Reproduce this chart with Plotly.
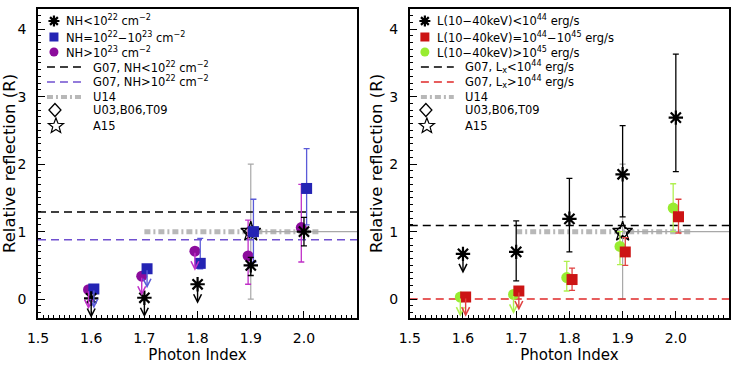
import math
import plotly.graph_objects as go

# ---------------- data ----------------
gamma = [1.6, 1.7, 1.8, 1.9, 2.0]
XR = [1.5, 2.0999]
YR = [-0.28, 4.3]

# Left panel (column density)
nh_lo_y  = [0.01, 0.02, 0.22, 0.50, 1.00]
nh_lo_hi = [None, None, None, 0.62, 1.21]
nh_lo_lo = [None, None, None, 0.35, 0.79]
nh_lo_ul = [True, True, True, False, False]

nh_mid_y  = [0.15, 0.45, 0.53, 1.00, 1.64]
nh_mid_hi = [None, None, 0.90, 1.48, 2.23]
nh_mid_lo = [None, None, 0.45, 0.55, 1.10]
nh_mid_ul = [True, True, False, False, False]

nh_hi_y  = [0.14, 0.34, 0.71, 0.64, 1.06]
nh_hi_hi = [None, None, None, 1.17, 1.70]
nh_hi_lo = [None, None, None, 0.22, 0.55]
nh_hi_ul = [True, True, True, False, False]

g07_nh_lo = 1.29
g07_nh_hi = 0.88

# Right panel (luminosity)
l_lo_y  = [0.67, 0.70, 1.19, 1.85, 2.69]
l_lo_hi = [None, 1.16, 1.79, 2.57, 3.63]
l_lo_lo = [None, 0.27, 0.70, 1.22, 1.89]
l_lo_ul = [True, False, False, False, False]

l_mid_y  = [0.03, 0.12, 0.29, 0.70, 1.22]
l_mid_hi = [None, None, 0.46, 0.91, 1.48]
l_mid_lo = [None, None, 0.13, 0.50, 0.98]
l_mid_ul = [True, True, False, False, False]

l_hi_y  = [0.03, 0.07, 0.32, 0.78, 1.35]
l_hi_hi = [None, None, 0.56, 1.00, 1.71]
l_hi_lo = [None, None, 0.12, 0.51, 1.00]
l_hi_ul = [True, True, False, False, False]

g07_l_lo = 1.09
g07_l_hi = 0.0

# Literature
u14_x = [1.70, 2.03]
u14_y = [1.0, 1.0]
u03_x, u03_y, u03_xspan = [1.9], [1.0], [0.2]
a15_x, a15_y, a15_hi, a15_lo = [1.9], [1.0], [2.0], [0.0]

# legend labels
left_labels = [
    "NH&lt;10<sup>22</sup> cm<sup>−2</sup>",
    "NH=10<sup>22</sup>−10<sup>23</sup> cm<sup>−2</sup>",
    "NH&gt;10<sup>23</sup> cm<sup>−2</sup>",
    "G07, NH&lt;10<sup>22</sup> cm<sup>−2</sup>",
    "G07, NH&gt;10<sup>22</sup> cm<sup>−2</sup>",
    "U14", "U03,B06,T09", "A15",
]
right_labels = [
    "L(10−40keV)&lt;10<sup>44</sup> erg/s",
    "L(10−40keV)=10<sup>44</sup>−10<sup>45</sup> erg/s",
    "L(10−40keV)&gt;10<sup>45</sup> erg/s",
    "G07, L<sub>x</sub>&lt;10<sup>44</sup> erg/s",
    "G07, L<sub>x</sub>&gt;10<sup>44</sup> erg/s",
    "U14", "U03,B06,T09", "A15",
]

ARROW_LEN = 0.29
OFF = 0.005

# ---------------- styles ----------------
FONT = "DejaVu Sans"
BLACK = "#000000"
BLUE, BLUE_E = "#2424b4", "#5a5ad8"
PURP, PURP_E = "#8c0c9c", "#c030c8"
RED, RED_E = "#cc1414", "#e04040"
GREEN, GREEN_E = "#98ec30", "#b0f050"
GRAY = "#a8a8a8"
U14_COL = "#b8b8b8"
PURP_D = "#7050d0"
RED_D = "#e02828"
U14_DASH = "6px,3px,2px,3px"
G07_DASH = "8px,5px"

W, H = 734, 366
ML, MR, MT, MB = 38, 3, 9, 48
PW, PH = W - ML - MR, H - MT - MB

fig = go.Figure()
annotations = []
shapes = []


def err(y, hi, lo):
    plus = [None if h is None else h - v for v, h in zip(y, hi)]
    minus = [None if l is None else v - l for v, l in zip(y, lo)]
    return plus, minus


def add_series(xs, y, hi, lo, ul, marker, ecol, acol, xa, ya):
    plus, minus = err(y, hi, lo)
    fig.add_trace(go.Scatter(
        x=xs, y=y, mode="markers", marker=marker, showlegend=False,
        error_y=dict(type="data", array=plus, arrayminus=minus, color=ecol,
                     thickness=1.3, width=3, symmetric=False),
        xaxis=xa, yaxis=ya))
    for xv, yv, u in zip(xs, y, ul):
        if u:
            annotations.append(dict(
                x=xv, y=yv - ARROW_LEN, ax=xv, ay=yv,
                xref=xa, yref=ya, axref=xa, ayref=ya, text="",
                showarrow=True, arrowhead=5, arrowsize=1.1, arrowwidth=1.4,
                arrowcolor=acol, standoff=0, startstandoff=0))


def add_lit(xa, ya):
    fig.add_trace(go.Scatter(
        x=u14_x, y=u14_y, mode="lines", showlegend=False,
        line=dict(color=U14_COL, width=5, dash=U14_DASH), xaxis=xa, yaxis=ya))
    fig.add_trace(go.Scatter(
        x=u03_x, y=u03_y, mode="markers", showlegend=False,
        marker=dict(symbol="diamond-open", size=11, color=BLACK, line=dict(width=1.3)),
        error_x=dict(type="data", array=u03_xspan, arrayminus=[0], color=GRAY,
                     thickness=1.2, width=0, symmetric=False),
        xaxis=xa, yaxis=ya))
    p, m = err(a15_y, a15_hi, a15_lo)
    fig.add_trace(go.Scatter(
        x=a15_x, y=a15_y, mode="markers", showlegend=False,
        marker=dict(symbol="star-open", size=15, color=BLACK, line=dict(width=1.3)),
        error_y=dict(type="data", array=p, arrayminus=m, color=GRAY,
                     thickness=1.2, width=3, symmetric=False),
        xaxis=xa, yaxis=ya))


def hline(yv, color, xa, ya):
    fig.add_trace(go.Scatter(
        x=XR, y=[yv, yv], mode="lines", showlegend=False,
        line=dict(color=color, width=1.5, dash=G07_DASH), xaxis=xa, yaxis=ya))


ast = dict(symbol="asterisk-open", size=12, color=BLACK, line=dict(width=2.2, color=BLACK))
sq = lambda c: dict(symbol="square", size=11, color=c, line=dict(width=0))
ci = lambda c: dict(symbol="circle", size=11, color=c, line=dict(width=0))

# ---- left panel ----
add_lit("x", "y")
hline(g07_nh_lo, BLACK, "x", "y")
hline(g07_nh_hi, PURP_D, "x", "y")
add_series([g - OFF for g in gamma], nh_hi_y, nh_hi_hi, nh_hi_lo, nh_hi_ul, ci(PURP), PURP_E, PURP_E, "x", "y")
add_series([g + OFF for g in gamma], nh_mid_y, nh_mid_hi, nh_mid_lo, nh_mid_ul, sq(BLUE), BLUE_E, BLUE_E, "x", "y")
add_series(gamma, nh_lo_y, nh_lo_hi, nh_lo_lo, nh_lo_ul, ast, BLACK, BLACK, "x", "y")

# ---- right panel ----
add_lit("x2", "y2")
hline(g07_l_lo, BLACK, "x2", "y2")
hline(g07_l_hi, RED_D, "x2", "y2")
add_series([g - OFF for g in gamma], l_hi_y, l_hi_hi, l_hi_lo, l_hi_ul, ci(GREEN), GREEN_E, GREEN_E, "x2", "y2")
add_series([g + OFF for g in gamma], l_mid_y, l_mid_hi, l_mid_lo, l_mid_ul, sq(RED), RED_E, RED_E, "x2", "y2")
add_series(gamma, l_lo_y, l_lo_hi, l_lo_lo, l_lo_ul, ast, BLACK, BLACK, "x2", "y2")

# ---------------- hand-drawn legends (paper coords, pixel-sized symbols) ----------------
def px(xp):
    return (xp - ML) / PW


def py(yp):
    return (MT + PH - yp) / PH


ROW_Y = [21, 37, 52, 67, 82, 97, 110, 126]

star_pts = []
for k in range(10):
    r = 8.0 if k % 2 == 0 else 3.4
    a = math.pi / 2 + k * math.pi / 5
    star_pts.append((r * math.cos(a), r * math.sin(a)))
STAR_PATH = "M" + "L".join(f"{x:.2f},{y:.2f}" for x, y in star_pts) + "Z"
AST_PATH = "M-5.5,0L5.5,0M0,-5.5L0,5.5M-3.9,-3.9L3.9,3.9M-3.9,3.9L3.9,-3.9"
DIA_PATH = "M0,-6.5L6,0L0,6.5L-6,0Z"


def pix_shape(cx, cy, **kw):
    d = dict(xref="paper", yref="paper", xsizemode="pixel", ysizemode="pixel",
             xanchor=px(cx), yanchor=py(cy), layer="above")
    d.update(kw)
    shapes.append(d)


def legend(x_sym, x_txt1, x_txt2, x_l0, x_l1, labels, c_sq, c_ci, c_dash2):
    pix_shape(x_sym, ROW_Y[0], type="path", path=AST_PATH, line=dict(color=BLACK, width=2.2))
    pix_shape(x_sym, ROW_Y[1], type="rect", x0=-4.5, x1=4.5, y0=-4.5, y1=4.5,
              fillcolor=c_sq, line=dict(width=0))
    pix_shape(x_sym, ROW_Y[2], type="circle", x0=-4.5, x1=4.5, y0=-4.5, y1=4.5,
              fillcolor=c_ci, line=dict(width=0))
    for row, col, w, dash in [(3, BLACK, 1.5, G07_DASH), (4, c_dash2, 1.5, G07_DASH), (5, U14_COL, 4, U14_DASH)]:
        shapes.append(dict(type="line", xref="paper", yref="paper",
                           x0=px(x_l0), x1=px(x_l1), y0=py(ROW_Y[row]), y1=py(ROW_Y[row]),
                           line=dict(color=col, width=w, dash=dash), layer="above"))
    pix_shape(x_sym + 1, ROW_Y[6], type="path", path=DIA_PATH, line=dict(color=BLACK, width=1.3))
    pix_shape(x_sym + 2, ROW_Y[7], type="path", path=STAR_PATH, line=dict(color=BLACK, width=1.2))
    for i, lab in enumerate(labels):
        annotations.append(dict(
            xref="paper", yref="paper", x=px(x_txt1 if i < 3 else x_txt2), y=py(ROW_Y[i]),
            xanchor="left", yanchor="middle", text=lab, showarrow=False,
            font=dict(family=FONT, size=11.5, color=BLACK)))


legend(54, 64, 91, 47, 82, left_labels, BLUE, PURP, PURP_D)
legend(426, 436, 464, 422, 455, right_labels, RED, GREEN, RED_D)

# ---------------- axes ----------------
minor_x = dict(ticks="inside", ticklen=3, dtick=0.01, tick0=1.5, tickcolor=BLACK, tickwidth=1)
minor_y = dict(ticks="inside", ticklen=3, dtick=0.1, tick0=0, tickcolor=BLACK, tickwidth=1)
ax_common = dict(ticks="inside", ticklen=7, tickwidth=1.3, tickcolor=BLACK,
                 showgrid=False, zeroline=False,
                 tickfont=dict(family=FONT, size=14, color=BLACK))
xax = dict(ax_common, range=XR, tickmode="linear", tick0=1.5, dtick=0.1, tickformat=".1f",
           showline=True, linecolor=BLACK, linewidth=1.5, mirror=True,
           minor=minor_x,
           title=dict(text="Photon Index", font=dict(family=FONT, size=15, color=BLACK), standoff=3),
           ticklabelstandoff=6)
yax = dict(ax_common, range=YR, tickmode="linear", tick0=0, dtick=1,
           showline=True, linecolor=BLACK, linewidth=1.5, mirror=True,
           minor=minor_y,
           title=dict(text="Relative reflection (R)", font=dict(family=FONT, size=16.5, color=BLACK), standoff=3),
           ticklabelstandoff=7)
xtop = dict(ax_common, range=XR, tickmode="linear", tick0=1.5, dtick=0.1, showline=False,
            minor=minor_x, showticklabels=False, side="top")
yright = dict(ax_common, range=YR, tickmode="linear", tick0=0, dtick=1, showline=False,
              minor=minor_y, showticklabels=False, side="right")

DOM1 = [0.0, 0.4618]
DOM2 = [0.538, 1.0]

fig.update_layout(
    width=W, height=H,
    margin=dict(l=ML, r=MR, t=MT, b=MB),
    paper_bgcolor="white", plot_bgcolor="white",
    xaxis=dict(xax, domain=DOM1, anchor="y"),
    yaxis=dict(yax, domain=[0, 1], anchor="x"),
    xaxis2=dict(xax, domain=DOM2, anchor="y2"),
    yaxis2=dict(yax, domain=[0, 1], anchor="x2"),
    xaxis3=dict(xtop, overlaying="x", anchor="y"),
    yaxis3=dict(yright, overlaying="y", anchor="x"),
    xaxis4=dict(xtop, overlaying="x2", anchor="y2"),
    yaxis4=dict(yright, overlaying="y2", anchor="x2"),
    annotations=annotations,
    shapes=shapes,
    showlegend=False,
)

fig.write_html("out.html")
